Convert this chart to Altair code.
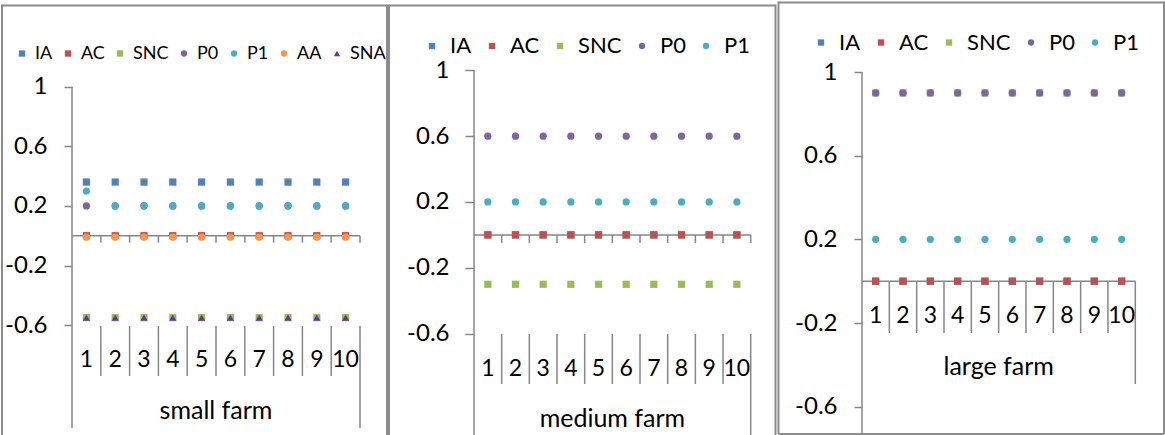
import altair as alt
import pandas as pd

categories = [1, 2, 3, 4, 5, 6, 7, 8, 9, 10]

# small farm
small_IA = [0.36, 0.36, 0.36, 0.36, 0.36, 0.36, 0.36, 0.36, 0.36, 0.36]
small_AC = [0.0, 0.0, 0.0, 0.0, 0.0, 0.0, 0.0, 0.0, 0.0, 0.0]
small_SNC = [-0.55, -0.55, -0.55, -0.55, -0.55, -0.55, -0.55, -0.55, -0.55, -0.55]
small_P0 = [0.2, 0.2, 0.2, 0.2, 0.2, 0.2, 0.2, 0.2, 0.2, 0.2]
small_P1 = [0.3, 0.2, 0.2, 0.2, 0.2, 0.2, 0.2, 0.2, 0.2, 0.2]
small_AA = [-0.01, -0.01, -0.01, -0.01, -0.01, -0.01, -0.01, -0.01, -0.01, -0.01]
small_SNA = [-0.55, -0.55, -0.55, -0.55, -0.55, -0.55, -0.55, -0.55, -0.55, -0.55]

# medium farm
medium_IA = [0.0, 0.0, 0.0, 0.0, 0.0, 0.0, 0.0, 0.0, 0.0, 0.0]
medium_AC = [0.0, 0.0, 0.0, 0.0, 0.0, 0.0, 0.0, 0.0, 0.0, 0.0]
medium_SNC = [-0.3, -0.3, -0.3, -0.3, -0.3, -0.3, -0.3, -0.3, -0.3, -0.3]
medium_P0 = [0.6, 0.6, 0.6, 0.6, 0.6, 0.6, 0.6, 0.6, 0.6, 0.6]
medium_P1 = [0.2, 0.2, 0.2, 0.2, 0.2, 0.2, 0.2, 0.2, 0.2, 0.2]

# large farm
large_IA = [0.0, 0.0, 0.0, 0.0, 0.0, 0.0, 0.0, 0.0, 0.0, 0.0]
large_AC = [0.0, 0.0, 0.0, 0.0, 0.0, 0.0, 0.0, 0.0, 0.0, 0.0]
large_SNC = [0.9, 0.9, 0.9, 0.9, 0.9, 0.9, 0.9, 0.9, 0.9, 0.9]
large_P0 = [0.9, 0.9, 0.9, 0.9, 0.9, 0.9, 0.9, 0.9, 0.9, 0.9]
large_P1 = [0.2, 0.2, 0.2, 0.2, 0.2, 0.2, 0.2, 0.2, 0.2, 0.2]

y_ticks = [1, 0.6, 0.2, -0.2, -0.6]

SERIES_COLORS = {
    "IA": "#4F81BD", "AC": "#C0504D", "SNC": "#9BBB59", "P0": "#8064A2",
    "P1": "#4BACC6", "AA": "#F79646", "SNA": "#7030A0",
}
SERIES_SHAPES = {
    "IA": "square", "AC": "square", "SNC": "square", "P0": "circle",
    "P1": "circle", "AA": "circle", "SNA": "triangle-up",
}

FONT = "Lato"
AXIS_GRAY = "#868686"
FRAME_GRAY = "#8C8C8C"
H = 435


def long_table(series_values):
    rows = []
    for name, vals in series_values.items():
        for c, v in zip(categories, vals):
            rows.append({"cat": c, "series": name, "value": v})
    return pd.DataFrame(rows)


def panel(title, series_values, lay):
    names = list(series_values)
    W, ax, step, y1, ppu = lay["W"], lay["axis_x"], lay["step"], lay["y1"], lay["ppu"]
    xs = alt.Scale(domain=[0.5 - ax / step, 0.5 + (W - ax) / step], nice=False, zero=False)
    y_top = 1 + y1 / ppu
    ys = alt.Scale(domain=[y_top - H / ppu, y_top], nice=False, zero=False)
    zero_px = y1 + ppu
    n = len(categories)

    y_axis = alt.Axis(
        values=y_ticks, offset=-ax, domain=False, grid=False, title=None,
        tickSize=lay["ytick"], tickColor=AXIS_GRAY, tickWidth=1.5,
        labelFont=FONT, labelFontSize=24, labelColor="black",
        labelPadding=lay["ylab_pad"], format=".1~f",
        labelExpr="replace(datum.label, '\u2212', '-')",
    )

    legend = alt.Legend(
        title=None, orient="none", legendX=lay["leg_x"], legendY=lay["leg_y"],
        direction="horizontal", columns=len(names), padding=0,
        labelFont=FONT, labelFontSize=lay["leg_font"], labelColor="black",
        symbolSize=40, symbolStrokeWidth=0, labelOffset=lay["leg_off"],
        columnPadding=lay["leg_pad"],
    )

    points = alt.Chart(long_table(series_values)).mark_point(
        filled=True, opacity=1, size=52
    ).encode(
        x=alt.X("cat:Q", scale=xs, axis=None),
        y=alt.Y("value:Q", scale=ys, axis=y_axis),
        color=alt.Color("series:N", scale=alt.Scale(
            domain=names, range=[SERIES_COLORS[s] for s in names]), legend=legend),
        shape=alt.Shape("series:N", scale=alt.Scale(
            domain=names, range=[SERIES_SHAPES[s] for s in names]), legend=legend),
    )

    ref = pd.DataFrame({"top": [1.0], "zero": [0.0], "x0": [0.5], "x1": [n + 0.5],
                        "mid": [(n + 1) / 2], "t": [title]})
    bounds = pd.DataFrame({"b": [c + 0.5 for c in categories]})
    inner = pd.DataFrame({"b": [c + 0.5 for c in categories[:-1]]})
    outer = pd.DataFrame({"b": [n + 0.5]})

    line = dict(color=AXIS_GRAY, strokeWidth=1.5)
    xb = alt.X("b:Q", scale=xs, axis=None)

    y_line = alt.Chart(ref).mark_rule(**line).encode(
        x=alt.X("x0:Q", scale=xs, axis=None),
        y=alt.Y("top:Q", scale=ys, axis=y_axis), y2=alt.value(lay["yline_bot"]))
    x_line = alt.Chart(ref).mark_rule(**line).encode(
        x=alt.X("x0:Q", scale=xs, axis=None), x2="x1:Q",
        y=alt.Y("zero:Q", scale=ys, axis=y_axis))
    layers = [y_line, x_line]
    if lay["tick_len"]:
        layers.append(alt.Chart(bounds).mark_rule(**line).encode(
            x=xb, y=alt.value(zero_px), y2=alt.value(zero_px + lay["tick_len"])))
    layers.append(alt.Chart(inner).mark_rule(**line).encode(
        x=xb, y=alt.value(lay["sep_top"]), y2=alt.value(lay["sep_bot"])))
    layers.append(alt.Chart(outer).mark_rule(**line).encode(
        x=xb, y=alt.value(lay["sep_top"]), y2=alt.value(lay["outer_bot"])))

    cat_labels = alt.Chart(pd.DataFrame({"cat": categories})).mark_text(
        font=FONT, fontSize=23, color="black", baseline="middle", align="center"
    ).encode(x=alt.X("cat:Q", scale=xs, axis=None), y=alt.value(lay["lab_y"]),
             text=alt.Text("cat:Q", format="d"))
    ttl = alt.Chart(ref).mark_text(
        font=FONT, fontSize=25, color="black", baseline="middle", align="center"
    ).encode(x=alt.X("mid:Q", scale=xs, axis=None), y=alt.value(lay["title_y"]), text="t:N")
    layers += [cat_labels, ttl]

    # panel frame
    fl, ft, fr, fb = lay["frame"]
    fstyle = dict(color=FRAME_GRAY, strokeWidth=2)
    frame = [
        alt.Chart(ref).mark_rule(**fstyle).encode(
            x=alt.value(fl), x2=alt.value(fr), y=alt.value(ft)),
        alt.Chart(ref).mark_rule(**fstyle).encode(
            x=alt.value(fl), y=alt.value(ft - 1), y2=alt.value(fb if fb else H)),
        alt.Chart(ref).mark_rule(**fstyle).encode(
            x=alt.value(fr), y=alt.value(ft - 1), y2=alt.value(fb if fb else H)),
    ]
    if fb:
        frame.append(alt.Chart(ref).mark_rule(**fstyle).encode(
            x=alt.value(fl), x2=alt.value(fr), y=alt.value(fb)))

    return alt.layer(*frame, *layers, points).properties(width=W, height=H)


small = panel("small farm", {
    "IA": small_IA, "AC": small_AC, "SNC": small_SNC, "P0": small_P0,
    "P1": small_P1, "AA": small_AA, "SNA": small_SNA,
}, dict(W=388, axis_x=72, step=28.8, y1=85.7, ppu=149, ytick=8, ylab_pad=17,
        tick_len=7, sep_top=325, sep_bot=375, outer_bot=427, yline_bot=427,
        lab_y=359, title_y=410, leg_x=13, leg_y=43.5, leg_font=18, leg_off=4, leg_pad=6,
        frame=(2, 4.5, 387, None)))

medium = panel("medium farm", {
    "IA": medium_IA, "AC": medium_AC, "SNC": medium_SNC, "P0": medium_P0, "P1": medium_P1,
}, dict(W=389, axis_x=86, step=27.67, y1=69.3, ppu=164.6, ytick=9, ylab_pad=16,
        tick_len=8, sep_top=333, sep_bot=383, outer_bot=435, yline_bot=435,
        lab_y=368, title_y=418, leg_x=33, leg_y=34, leg_font=22, leg_off=7, leg_pad=9,
        frame=(1, 4.5, 387.5, None)))

large = panel("large farm", {
    "IA": large_IA, "AC": large_AC, "SNC": large_SNC, "P0": large_P0, "P1": large_P1,
}, dict(W=388, axis_x=85, step=27.33, y1=71, ppu=209.2, ytick=8, ylab_pad=17,
        tick_len=None, sep_top=280, sep_bot=332, outer_bot=383, yline_bot=433,
        lab_y=315, title_y=366, leg_x=33, leg_y=30.5, leg_font=22, leg_off=7, leg_pad=9,
        frame=(1.5, 1.5, 387, 433)))

chart = alt.hconcat(small, medium, large, spacing=0, bounds="flush").properties(
    padding=0, background="white"
).resolve_scale(
    color="independent", shape="independent"
).configure_view(stroke=None)

chart.save("out.html", embed_options={"renderer": "svg", "actions": False})
